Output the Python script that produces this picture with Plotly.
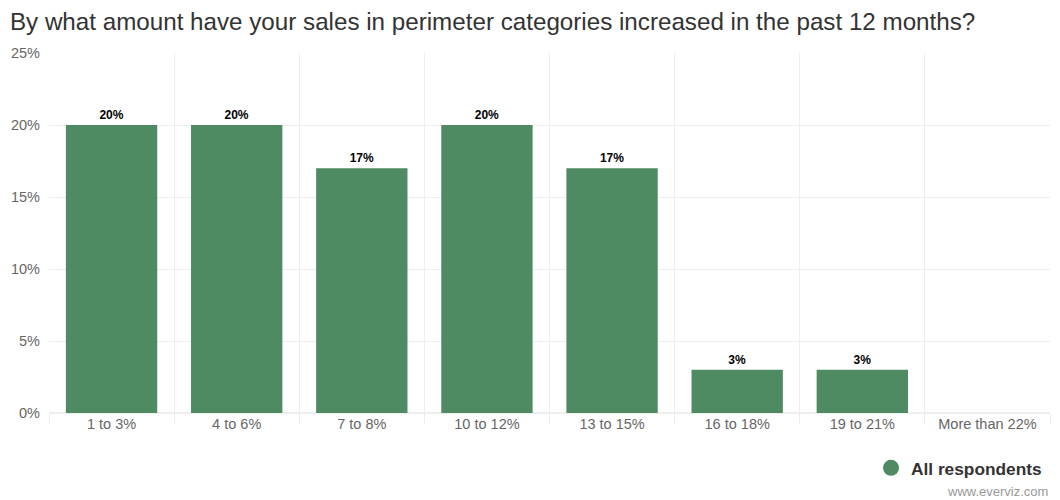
import plotly.graph_objects as go

categories = ["1 to 3%", "4 to 6%", "7 to 8%", "10 to 12%", "13 to 15%",
              "16 to 18%", "19 to 21%", "More than 22%"]
values = [20, 20, 17, 20, 17, 3, 3, 0]
series_name = "All respondents"
title_text = "By what amount have your sales in perimeter categories increased in the past 12 months?"
y_ticks = [0, 5, 10, 15, 20, 25]
y_tick_labels = ["0%", "5%", "10%", "15%", "20%", "25%"]
credit_text = "www.everviz.com"

green = "#4e8b62"
font_family = "Liberation Sans, Arial, Helvetica, sans-serif"

labels = [f"{v}%" if v > 0 else "" for v in values]

fig = go.Figure()
fig.add_trace(go.Bar(
    x=categories, y=values, marker=dict(color=green, line=dict(width=0)),
    text=labels, textposition="outside", texttemplate="%{text}",
    textfont=dict(family=font_family, size=12, color="#000000", weight="bold"),
    cliponaxis=False, showlegend=False, width=0.73, hoverinfo="x+y",
))
fig.add_trace(go.Scatter(
    x=[None], y=[None], mode="markers", name=series_name,
    marker=dict(color=green, size=17, symbol="circle"), showlegend=True,
))

fig.update_layout(
    width=1060, height=500,
    margin=dict(l=49, r=10, t=53, b=87),
    paper_bgcolor="white", plot_bgcolor="white",
    font=dict(family=font_family, color="#666666"),
    title=dict(text=title_text, x=0.0094, xanchor="left", y=0.956, yanchor="middle",
               font=dict(size=24.2, color="#333333", family=font_family)),
    bargap=0.27,
    legend=dict(x=0.997, xanchor="right", y=-0.153, yanchor="middle", orientation="h",
                font=dict(size=17.3, color="#333333", family=font_family, weight="bold"),
                itemsizing="trace", bgcolor="rgba(0,0,0,0)"),
    showlegend=True,
    annotations=[dict(text=credit_text, x=1, xref="paper", xanchor="right",
                      y=-0.217, yref="paper", yanchor="middle", showarrow=False,
                      font=dict(size=13, color="#999999", family=font_family))],
)
fig.update_xaxes(
    type="category", tickson="boundaries", showgrid=True, gridcolor="#eeeeee", gridwidth=1,
    ticks="outside", ticklen=10, tickcolor="#eeeeee", showline=False, zeroline=False,
    tickfont=dict(size=14.5, color="#666666"), fixedrange=True,
)
fig.update_yaxes(
    range=[0, 25], tickvals=y_ticks, ticktext=y_tick_labels, showgrid=True, gridcolor="#eeeeee",
    zeroline=True, zerolinecolor="#eeeeee", showline=False,
    tickfont=dict(size=14.5, color="#666666"), ticklabelstandoff=8, fixedrange=True,
)

fig.write_html("out.html")
